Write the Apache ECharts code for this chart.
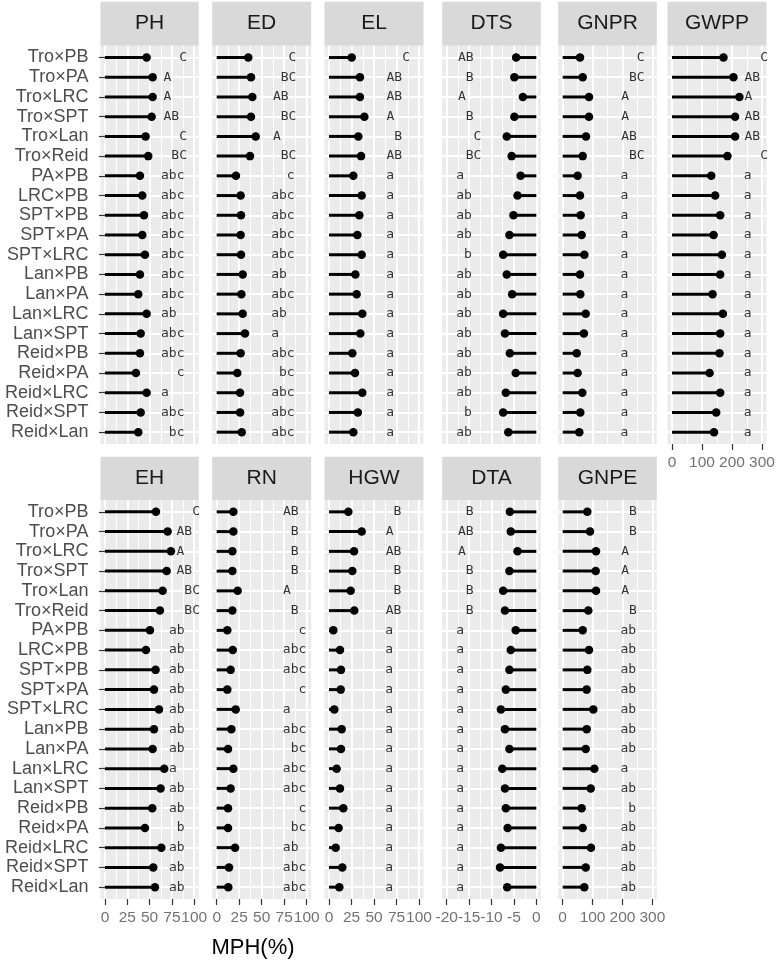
<!DOCTYPE html>
<html><head><meta charset="utf-8">
<script src="https://cdn.jsdelivr.net/npm/echarts@6/dist/echarts.min.js"></script>
<style>html,body{margin:0;padding:0;background:#fff}#c{width:777px;height:963px}</style>
</head><body><div id="c"></div>
<script>
const categories = ['Tro×PB','Tro×PA','Tro×LRC','Tro×SPT','Tro×Lan','Tro×Reid','PA×PB','LRC×PB','SPT×PB','SPT×PA','SPT×LRC','Lan×PB','Lan×PA','Lan×LRC','Lan×SPT','Reid×PB','Reid×PA','Reid×LRC','Reid×SPT','Reid×Lan'];

const PH = [46.7,53.4,53.4,52.3,45.5,48.5,39.2,41.8,43.7,41.8,44.8,39.2,37.3,46.7,40,39.2,34.7,46.7,40,37.3];
const PH_sig = ['C','A','A','AB','C','BC','abc','abc','abc','abc','abc','abc','abc','ab','abc','abc','c','a','abc','bc'];
const ED = [35.1,38.1,39.6,38.1,43.3,37,21.4,26.6,27,26.6,27,28.9,27.4,28.9,31.4,26.6,22.9,25.9,26,27.8];
const ED_sig = ['C','BC','AB','BC','A','BC','c','abc','abc','abc','abc','ab','abc','ab','a','abc','bc','abc','abc','abc'];
const EL = [25.2,34.4,34.4,39.3,32.6,35.6,27,36.3,33.7,31.5,36.3,29.3,30.7,37,34.8,25.9,28.9,37,32,27];
const EL_sig = ['C','AB','AB','A','B','AB','a','a','a','a','a','a','a','a','a','a','a','a','a','a'];
const DTS = [-4.5,-4.9,-3.0,-4.9,-6.6,-5.5,-3.5,-4.2,-5.1,-6.0,-7.4,-6.6,-5.4,-7.4,-7.0,-5.9,-4.6,-6.8,-7.4,-6.25];
const DTS_sig = ['AB','B','A','B','C','BC','a','ab','ab','ab','b','ab','ab','ab','ab','ab','ab','ab','b','ab'];
const GNPR = [58,67,88,88,78,67,50,58,60,63.5,72.5,58,59,77,71,47,50,65.7,59,55.6];
const GNPR_sig = ['C','BC','A','A','AB','BC','a','a','a','a','a','a','a','a','a','a','a','a','a','a'];
const GWPP = [171.6,204.8,224.6,210.3,210.3,184.8,130.8,144,160.6,138.5,166.2,160.6,135.2,169.5,160.6,158.4,125.3,160.6,147.4,140];
const GWPP_sig = ['C','AB','A','AB','AB','C','a','a','a','a','a','a','a','a','a','a','a','a','a','a'];
const EH = [57.1,70.2,73.9,69.1,64.6,61.6,50.4,45.9,56.7,54.9,60.5,54.9,53.4,66.4,62.3,53,44.8,63.1,54.1,56];
const EH_sig = ['C','AB','A','AB','BC','BC','ab','ab','ab','ab','ab','ab','ab','a','ab','ab','b','ab','ab','ab'];
const RN = [18.5,18.5,17.4,17.4,23.3,17.4,11.8,17.8,15.5,11.8,21.1,16.3,12.6,18.5,15.5,12.6,12.6,20.4,13.7,12.9];
const RN_sig = ['AB','B','B','B','A','B','c','abc','abc','c','a','abc','bc','abc','abc','c','bc','ab','abc','abc'];
const HGW = [21.5,36.3,27.8,25.9,24.1,28.1,4.8,12.2,13.3,13,5.9,14.1,13.3,8.5,12.2,15.9,10.7,7.4,14.8,11.5];
const HGW_sig = ['B','A','AB','B','B','AB','a','a','a','a','a','a','a','a','a','a','a','a','a','a'];
const DTA = [-5.9,-5.7,-4.2,-6.0,-7.4,-7.0,-4.6,-5.7,-6.0,-6.8,-7.9,-7.0,-6.0,-7.6,-7.0,-6.8,-6.4,-7.9,-8.1,-6.5];
const DTA_sig = ['B','AB','A','B','B','B','a','a','a','a','a','a','a','a','a','a','a','a','a','a'];
const GNPE = [82.4,91.4,111.5,110.4,111.5,85.8,67,88,82.4,80.3,102.5,80.3,77,105.9,93.7,63.5,67,94.7,77,72.3];
const GNPE_sig = ['B','B','A','A','A','B','ab','ab','ab','ab','ab','ab','ab','a','ab','b','ab','ab','ab','ab'];

const pctTicks = [0, 25, 50, 75, 100];
const negTicks = [-20, -15, -10, -5, 0];
const gnTicks = [0, 100, 200, 300];

const xTitle = 'MPH(%)';

const FONT = '"Liberation Sans", Arial, sans-serif';
const MONO = '"DejaVu Sans Mono", monospace';

const scales = {
  pct: {min: 0, max: 100, interval: 25, lo: -5, hi: 105, ticks: pctTicks},
  neg: {min: -20, max: 0, interval: 5, lo: -21, hi: 1, ticks: negTicks},
  gn:  {min: 0, max: 300, interval: 100, lo: -15, hi: 315, ticks: gnTicks}
};
const cols = [
  {left: 100.5, width: 98.2}, {left: 212.2, width: 99}, {left: 324.5, width: 99},
  {left: 442.2, width: 98.6}, {left: 558.2, width: 98.6}, {left: 667.5, width: 99}
];
const rows = [
  {strip: 1.7, top: 45.7, bottom: 444},
  {strip: 456.7, top: 500, bottom: 899}
];
const panels = [
  {name: 'PH',   values: PH,   sig: PH_sig,   row: 0, col: 0, scale: 'pct', xlab: false, anchor: [62.5, 60]},
  {name: 'ED',   values: ED,   sig: ED_sig,   row: 0, col: 1, scale: 'pct', xlab: false, anchor: [60.2, 58.5]},
  {name: 'EL',   values: EL,   sig: EL_sig,   row: 0, col: 2, scale: 'pct', xlab: false, anchor: [61.5, 61.2]},
  {name: 'DTS',  values: DTS,  sig: DTS_sig,  row: 0, col: 3, scale: 'neg', xlab: false, anchor: [15.2, 13.5]},
  {name: 'GNPR', values: GNPR, sig: GNPR_sig, row: 0, col: 4, scale: 'gn',  xlab: false, anchor: [62.5, 61.8]},
  {name: 'GWPP', values: GWPP, sig: GWPP_sig, row: 0, col: 5, scale: 'gn',  xlab: true,  anchor: [76.5, 75.8]},
  {name: 'EH',   values: EH,   sig: EH_sig,   row: 1, col: 0, scale: 'pct', xlab: true,  anchor: [75.5, 68]},
  {name: 'RN',   values: RN,   sig: RN_sig,   row: 1, col: 1, scale: 'pct', xlab: true,  anchor: [70.2, 70.1]},
  {name: 'HGW',  values: HGW,  sig: HGW_sig,  row: 1, col: 2, scale: 'pct', xlab: true,  anchor: [60.7, 60.2]},
  {name: 'DTA',  values: DTA,  sig: DTA_sig,  row: 1, col: 3, scale: 'neg', xlab: true,  anchor: [15.2, 13.5]},
  {name: 'GNPE', values: GNPE, sig: GNPE_sig, row: 1, col: 4, scale: 'gn',  xlab: true,  anchor: [62.5, 61.8]}
];

function pad(t) {
  const a = [' ', ' ', ' '];
  for (const ch of t) a[ch.toLowerCase().charCodeAt(0) - 97] = ch;
  return a.join('').replace(/\s+$/, '');
}

const grid = [], xAxis = [], yAxis = [], series = [], graphic = [];
panels.forEach(p => {
  const c = cols[p.col], r = rows[p.row], s = scales[p.scale];
  const H = r.bottom - r.top, W = c.width, span = s.hi - s.lo;
  // panel background
  let gi = grid.length;
  grid.push({left: c.left, top: r.top, width: W, height: H, show: true, backgroundColor: '#EBEBEB', borderWidth: 0});
  xAxis.push({gridIndex: gi, type: 'value', show: false, min: 0, max: 1});
  yAxis.push({gridIndex: gi, type: 'value', show: false, min: 0, max: 1});
  // x axis with vertical grid lines
  gi = grid.length;
  grid.push({left: c.left + (s.min - s.lo) / span * W, top: r.top, width: (s.max - s.min) / span * W, height: H, show: false});
  xAxis.push({
    gridIndex: gi, type: 'value', min: s.min, max: s.max, interval: s.interval,
    axisLine: {show: false},
    axisTick: {show: p.xlab, length: 6, lineStyle: {color: '#333333', width: 1.2}},
    axisLabel: {show: false},
    splitLine: {show: true, lineStyle: {color: '#FFFFFF', width: 2}},
    minorTick: {show: false, splitNumber: 2},
    minorSplitLine: {show: true, lineStyle: {color: '#FFFFFF', width: 1}}
  });
  yAxis.push({gridIndex: gi, type: 'value', show: false, min: 0, max: 1});
  if (p.xlab) {
    series.push({type: 'scatter', xAxisIndex: xAxis.length - 1, yAxisIndex: yAxis.length - 1, silent: true, clip: false,
      data: s.ticks.map(v => ({name: String(v), value: [v, 0]})),
      symbolSize: 1, itemStyle: {color: 'rgba(0,0,0,0)'},
      label: {show: true, position: 'bottom', distance: 10, formatter: '{b}', color: '#4D4D4D', fontSize: 15.5, fontFamily: FONT}
    });
  }
  // data grid
  gi = grid.length;
  const step = H / (categories.length + 0.2);
  grid.push({left: c.left, top: r.top + 0.1 * step, width: W, height: step * categories.length, show: false});
  xAxis.push({gridIndex: gi, type: 'value', min: s.lo, max: s.hi, show: false});
  yAxis.push({
    gridIndex: gi, type: 'category', data: categories, inverse: true, boundaryGap: true,
    axisLine: {show: false},
    axisTick: {show: p.col === 0, alignWithLabel: true, interval: 0, length: 6, lineStyle: {color: '#333333', width: 1.2}},
    axisLabel: {show: p.col === 0, interval: 0, color: '#4D4D4D', fontSize: 18, margin: 12, fontFamily: FONT},
    splitLine: {show: true, alignWithLabel: true, interval: 0, lineStyle: {color: '#FFFFFF', width: 2}}
  });
  const xi = xAxis.length - 1, yi = yAxis.length - 1;
  series.push({type: 'bar', xAxisIndex: xi, yAxisIndex: yi, data: p.values, barWidth: 3,
    itemStyle: {color: '#000000'}, silent: true});
  series.push({type: 'scatter', xAxisIndex: xi, yAxisIndex: yi, data: p.values.map((v, i) => [v, i]),
    symbolSize: 8.5, itemStyle: {color: '#000000', opacity: 1}, silent: true});
  series.push({type: 'scatter', xAxisIndex: xi, yAxisIndex: yi, silent: true,
    data: p.sig.map((t, i) => {
      const off = (t[0] === t[0].toUpperCase()) ? p.anchor[0] : p.anchor[1];
      return {name: pad(t), value: [s.lo + off / W * span, i]};
    }),
    symbolSize: 1, itemStyle: {color: 'rgba(0,0,0,0)'},
    label: {show: true, position: 'right', distance: 0, formatter: '{b}', fontFamily: MONO, fontSize: 13, color: '#000000'}
  });
  // strip
  graphic.push({type: 'rect', silent: true, shape: {x: c.left, y: r.strip, width: W, height: r.top - r.strip}, style: {fill: '#D9D9D9'}});
  graphic.push({type: 'text', silent: true, x: c.left + W / 2, y: (r.strip + r.top) / 2,
    style: {text: p.name, fontSize: 21, fill: '#1A1A1A', align: 'center', verticalAlign: 'middle', fontFamily: FONT}});
});
graphic.push({type: 'text', silent: true, x: 253, y: 948,
  style: {text: xTitle, fontSize: 22, fill: '#000000', align: 'center', verticalAlign: 'middle', fontFamily: FONT}});

const chart = echarts.init(document.getElementById('c'), null, {renderer: 'canvas', width: 777, height: 963});
chart.setOption({animation: false, backgroundColor: '#FFFFFF', grid, xAxis, yAxis, series, graphic});
</script></body></html>
